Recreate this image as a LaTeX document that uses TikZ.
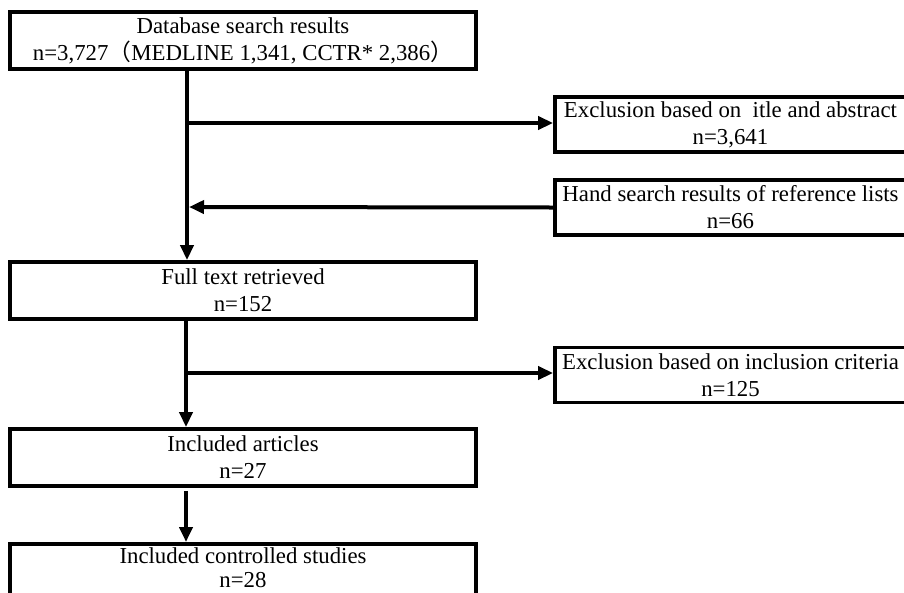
\documentclass[tikz,border=0pt]{standalone}
\usepackage{fontspec}
\setmainfont{Liberation Serif}
\newfontfamily\cjk{Noto Sans CJK SC}
\usetikzlibrary{arrows.meta}
\begin{document}
\begin{tikzpicture}[x=1pt,y=-1pt,
  box/.style={draw=black, line width=3.8pt, rectangle, inner sep=0pt, align=center,
    font=\fontsize{22.8}{27}\selectfont},
  lbox/.style={box, minimum width=466pt, minimum height=57pt},
  rbox/.style={box, minimum width=351pt, minimum height=55pt},
  txt/.style={inner sep=0pt, align=center, font=\fontsize{22.8}{23.5}\selectfont},
  conn/.style={line width=4pt},
  arr/.style={conn, -{Triangle[length=15pt,width=13pt]}}]
\useasboundingbox (0,0) rectangle (904,592);
\node[lbox] (b1) at (243,40.5) {Database search results\\n=3,727{\cjk （}MEDLINE 1,341, CCTR* 2,386{\cjk ）}};
\node[rbox] (e1) at (730.5,124.5) {Exclusion based on \ itle and abstract\\n=3,641};
\node[rbox] (hs) at (730.5,207.5) {Hand search results of reference lists\\n=66};
\node[lbox] (ft) at (243,290.5) {Full text retrieved\\n=152};
\node[rbox] (e2) at (730.5,375) {Exclusion based on inclusion criteria\\n=125};
\node[lbox] (ia) at (243,457.5) {Included articles\\n=27};
\node[lbox, anchor=north] (cs) at (243,542) {};
\node[txt] (cst) at (243,567.5) {Included controlled studies\\n=28};
\coordinate (j1) at (187,123);
\coordinate (j2) at (189,207);
\coordinate (j3) at (186,373);
\draw[arr] (b1.south -| j1) -- (ft.north -| j1);
\draw[arr] (j1) -- (e1.west |- j1);
\draw[arr] (hs.west) -- (j2);
\draw[arr] (ft.south -| j3) -- (ia.north -| j3);
\draw[arr] (j3) -- (e2.west |- j3);
\draw[arr, shorten <=3pt] (ia.south -| j3) -- (cs.north -| j3);
\end{tikzpicture}
\end{document}
